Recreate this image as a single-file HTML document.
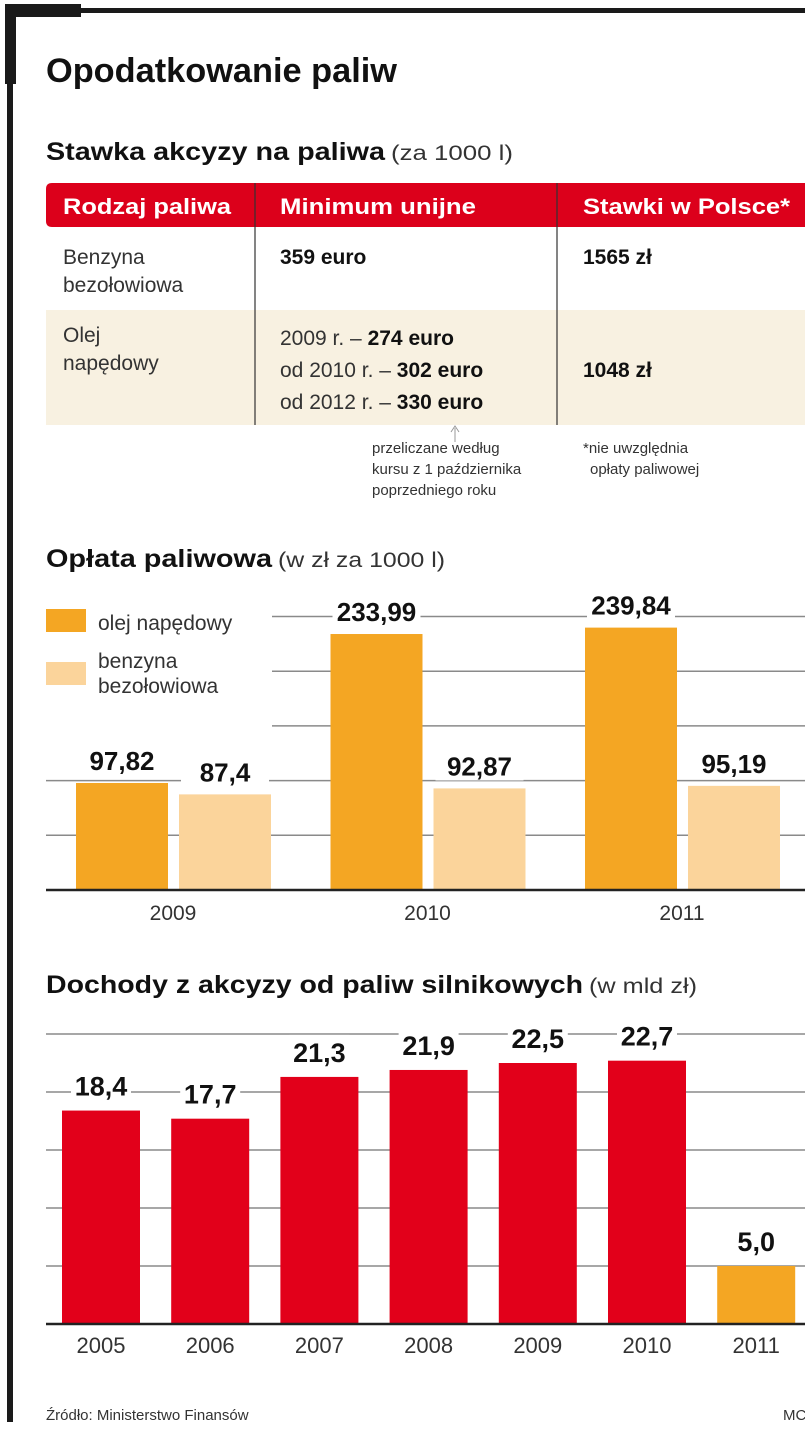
<!DOCTYPE html>
<html><head><meta charset="utf-8"><style>
html,body{margin:0;padding:0;background:#fff;}
svg{display:block;font-family:"Liberation Sans Narrow","Liberation Sans",sans-serif;}
</style></head><body>
<svg id="s" width="805" height="1441" viewBox="0 0 805 1441" xmlns="http://www.w3.org/2000/svg">
<g>
<rect x="5" y="4" width="76" height="13" fill="#1a1a1a"/>
<rect x="80" y="8" width="725" height="5" fill="#1a1a1a"/>
<rect x="5" y="4" width="11" height="80" fill="#1a1a1a"/>
<rect x="7" y="80" width="6" height="1342" fill="#1a1a1a"/>
</g>
<text x="46" y="82" font-size="34" font-weight="bold" fill="#111" textLength="351" lengthAdjust="spacingAndGlyphs">Opodatkowanie paliw</text>
<g>
<text x="46" y="160" font-size="25" font-weight="bold" fill="#111" textLength="339" lengthAdjust="spacingAndGlyphs">Stawka akcyzy na paliwa</text>
<text x="391" y="160" font-size="21" fill="#333" textLength="122" lengthAdjust="spacingAndGlyphs">(za 1000 l)</text>
</g>
<g>
<path d="M52 183 H805 V227 H52 Q46 227 46 221 V189 Q46 183 52 183Z" fill="#dc001b"/>
<rect x="46" y="310" width="759" height="115" fill="#f8f1e1"/>
<line x1="255" y1="183" x2="255" y2="425" stroke="#333" stroke-width="1.2"/>
<line x1="557" y1="183" x2="557" y2="425" stroke="#333" stroke-width="1.2"/>
<g font-size="22" font-weight="bold" fill="#fff">
<text x="63" y="214" textLength="168" lengthAdjust="spacingAndGlyphs">Rodzaj paliwa</text>
<text x="280" y="214" textLength="196" lengthAdjust="spacingAndGlyphs">Minimum unijne</text>
<text x="583" y="214" textLength="207" lengthAdjust="spacingAndGlyphs">Stawki w Polsce*</text>
</g>
<g font-size="21" fill="#333">
<text x="63" y="264">Benzyna</text>
<text x="63" y="292">bezołowiowa</text>
<text x="63" y="342">Olej</text>
<text x="63" y="370">napędowy</text>
<text x="280" y="345">2009 r. – <tspan font-weight="bold" fill="#111">274 euro</tspan></text>
<text x="280" y="377">od 2010 r. – <tspan font-weight="bold" fill="#111">302 euro</tspan></text>
<text x="280" y="409">od 2012 r. – <tspan font-weight="bold" fill="#111">330 euro</tspan></text>
</g>
<g font-size="21" font-weight="bold" fill="#111">
<text x="280" y="264">359 euro</text>
<text x="583" y="264">1565 zł</text>
<text x="583" y="377">1048 zł</text>
</g>
<line x1="455" y1="428" x2="455" y2="442" stroke="#999" stroke-width="1"/>
<path d="M451 432 L455 426 L459 432" fill="none" stroke="#999"/>
<g font-size="15" fill="#333">
<text x="372" y="453">przeliczane według</text>
<text x="372" y="474">kursu z 1 października</text>
<text x="372" y="495">poprzedniego roku</text>
<text x="583" y="453">*nie uwzględnia</text>
<text x="590" y="474">opłaty paliwowej</text>
</g>
</g>
<g>
<text x="46" y="567" font-size="25" font-weight="bold" fill="#111" textLength="226" lengthAdjust="spacingAndGlyphs">Opłata paliwowa</text>
<text x="278" y="567" font-size="21" fill="#333" textLength="167" lengthAdjust="spacingAndGlyphs">(w zł za 1000 l)</text>
</g>
<g id="c1"></g>
<g>
<rect x="46" y="609" width="40" height="23" fill="#f4a623"/>
<text x="98" y="630" font-size="21" fill="#333">olej napędowy</text>
<rect x="46" y="662" width="40" height="23" fill="#fbd49b"/>
<text x="98" y="668" font-size="21" fill="#333">benzyna</text>
<text x="98" y="693" font-size="21" fill="#333">bezołowiowa</text>
</g>
<g>
<text x="46" y="993" font-size="25" font-weight="bold" fill="#111" textLength="537" lengthAdjust="spacingAndGlyphs">Dochody z akcyzy od paliw silnikowych</text>
<text x="589" y="993" font-size="21" fill="#333" textLength="108" lengthAdjust="spacingAndGlyphs">(w mld zł)</text>
</g>
<g id="c2"></g>
<text x="46" y="1420" font-size="15" fill="#333">Źródło: Ministerstwo Finansów</text>
<text x="783" y="1420" font-size="15" fill="#333">MC</text>
</svg>
<script>
const feeYears = ["2009","2010","2011"];
const dieselFee = [97.82, 233.99, 239.84];
const petrolFee = [87.4, 92.87, 95.19];
const dieselFeeLabels = ["97,82","233,99","239,84"];
const petrolFeeLabels = ["87,4","92,87","95,19"];
const feeTicks = [50,100,150,200,250];

const revYears = ["2005","2006","2007","2008","2009","2010","2011"];
const revValues = [18.4, 17.7, 21.3, 21.9, 22.5, 22.7, 5.0];
const revLabels = ["18,4","17,7","21,3","21,9","22,5","22,7","5,0"];
const revTicks = [5,10,15,20,25];

const NS="http://www.w3.org/2000/svg";
function mk(p,t,a){const e=document.createElementNS(NS,t);for(const k in a)e.setAttribute(k,a[k]);p.appendChild(e);return e;}

(function(){
 const g=document.getElementById('c1');
 const base=890, k=1.094;
 const y=v=>base-v*k;
 feeTicks.forEach(t=>{
  const l=mk(g,'line',{x1:t>=150?272:46,x2:805,y1:y(t),y2:y(t),stroke:'#8a8a8a','stroke-width':1.5});
  
  
 });
 feeYears.forEach((yr,i)=>{
  const x0=76+i*254.5;
  [[dieselFee,dieselFeeLabels,'#f4a623',0],[petrolFee,petrolFeeLabels,'#fbd49b',103]].forEach(([vals,labs,col,off],j)=>{
   const bx=x0+off, w=92, top=y(vals[i]);
   const r=mk(g,'rect',{x:bx,y:top,width:w,height:base-top,fill:col});
   
   
   mk(g,'rect',{x:bx+w/2-44,y:top-38,width:88,height:30,fill:'#fff'});
   const t=mk(g,'text',{x:bx+w/2,y:top-13,'text-anchor':'middle','font-size':26,'font-weight':'bold',fill:'#111'});
   t.textContent=labs[i];
   
   
  });
  const t=mk(g,'text',{x:x0+97,y:920,'text-anchor':'middle','font-size':21,fill:'#333'});
  t.textContent=yr;
  
  
 });
 const b=mk(g,'line',{x1:46,x2:805,y1:base,y2:base,stroke:'#222','stroke-width':2.5});
 
 
})();

(function(){
 const g=document.getElementById('c2');
 const base=1324, k=11.6;
 const y=v=>base-v*k;
 revTicks.forEach(t=>{
  const l=mk(g,'line',{x1:46,x2:805,y1:y(t),y2:y(t),stroke:'#8a8a8a','stroke-width':1.5});
  
  
 });
 revYears.forEach((yr,i)=>{
  const bx=62+i*109.2, w=78, top=y(revValues[i]);
  const r=mk(g,'rect',{x:bx,y:top,width:w,height:base-top,fill:i===revYears.length-1?'#f4a623':'#e2001a'});
  
  
  mk(g,'rect',{x:bx+w/2-30,y:top-42,width:60,height:32,fill:'#fff'});
  const t=mk(g,'text',{x:bx+w/2,y:top-15,'text-anchor':'middle','font-size':27,'font-weight':'bold',fill:'#111'});
  t.textContent=revLabels[i];
  
  
  const tl=mk(g,'text',{x:bx+w/2,y:1353,'text-anchor':'middle','font-size':22,fill:'#333'});
  tl.textContent=yr;
  
  
 });
 const b=mk(g,'line',{x1:46,x2:805,y1:base,y2:base,stroke:'#222','stroke-width':2.5});
 
 
})();
</script>
</body></html>
